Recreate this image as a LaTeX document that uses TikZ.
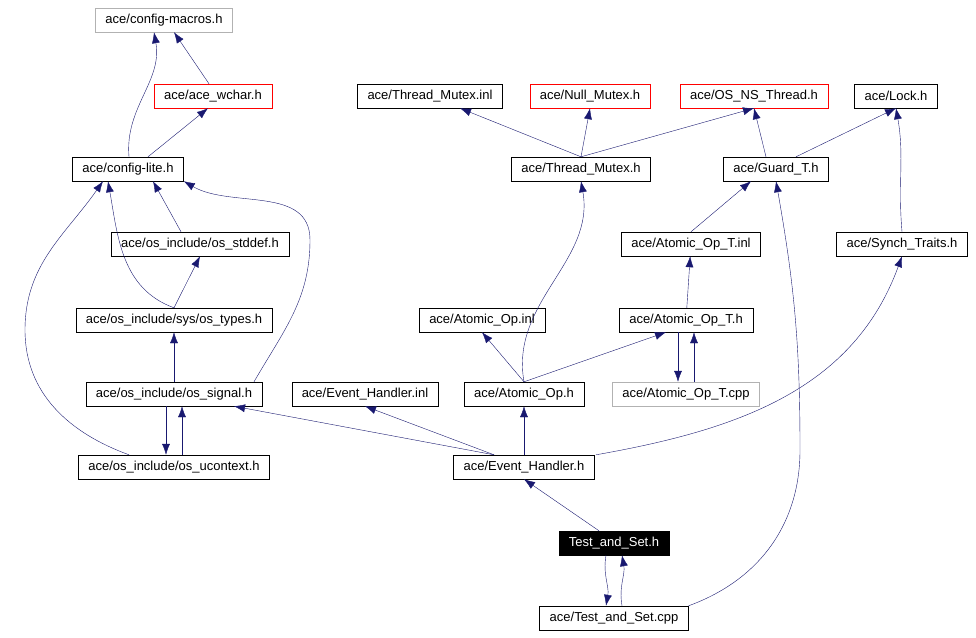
\documentclass[tikz,border=0pt]{standalone}
\usepackage{fontspec}
\setmainfont{Liberation Sans}
\usetikzlibrary{arrows.meta}
\definecolor{edgeblue}{RGB}{25,25,112}
\tikzset{
	file/.style    = {draw=black, rectangle, minimum height=24pt, inner xsep=10pt, font=\fontsize{13}{15}\selectfont},
	ext/.style     = {file, draw=gray!60},
	bad/.style     = {file, draw=red},
	self/.style    = {file, fill=black, text=white},
	inc/.style     = {draw=edgeblue, -{Latex[length=11pt,width=8pt]}}
}
\begin{document}
\begin{tikzpicture}[x=1pt, y=-1pt]
	\useasboundingbox (0,0) rectangle (976,637);
	% headers on the left
	\node[ext] (cmac) at (164,20) {ace/config-macros.h};
	\node[bad] (wchar) at (213,96) {ace/ace\_wchar.h};
	\node[file] (clite) at (128,169) {ace/config-lite.h};
	\node[file] (stddef) at (200,244) {ace/os\_include/os\_stddef.h};
	\node[file] (types) at (174,320) {ace/os\_include/sys/os\_types.h};
	\node[file] (signal) at (174,394) {ace/os\_include/os\_signal.h};
	\node[file] (uctx) at (174,467) {ace/os\_include/os\_ucontext.h};
	\node[file] (ehinl) at (365,394) {ace/Event\_Handler.inl};
	% headers on the right
	\node[file] (tminl) at (430,96) {ace/Thread\_Mutex.inl};
	\node[bad] (null) at (590,96) {ace/Null\_Mutex.h};
	\node[bad] (osns) at (754,96) {ace/OS\_NS\_Thread.h};
	\node[file] (lock) at (896,96) {ace/Lock.h};
	\node[file] (tmh) at (581,169) {ace/Thread\_Mutex.h};
	\node[file] (guard) at (776,169) {ace/Guard\_T.h};
	\node[file] (aotinl) at (691,244) {ace/Atomic\_Op\_T.inl};
	\node[file] (synch) at (902,244) {ace/Synch\_Traits.h};
	\node[file] (aoinl) at (482,320) {ace/Atomic\_Op.inl};
	\node[file] (aoth) at (686,320) {ace/Atomic\_Op\_T.h};
	\node[file] (aoh) at (524,394) {ace/Atomic\_Op.h};
	\node[ext] (aotcpp) at (686,394) {ace/Atomic\_Op\_T.cpp};
	\node[file] (ehh) at (524,467) {ace/Event\_Handler.h};
	\node[self] (tash) at (614,543) {Test\_and\_Set.h};
	\node[file] (tascpp) at (614,618) {ace/Test\_and\_Set.cpp};

	\draw[inc] (wchar.north west) ++(55,0) coordinate (w1) -- ([xshift=10pt]cmac.south);
	\draw[inc] ([xshift=1pt]clite.north) to[out=95,in=-80] ([xshift=-10pt]cmac.south);
	\draw[inc] ([xshift=20pt]clite.north) -- ([xshift=-5pt]wchar.south);
	\draw[inc] (stddef.north west) ++(70,0) -- ([xshift=25pt]clite.south);
	\draw[inc] (types.north) to[out=160,in=-80] ([xshift=-20pt]clite.south);
	\draw[inc] (types.north) -- (stddef.south);
	\draw[inc] (signal) -- (types);
	\draw[inc] ([xshift=80pt]signal.north) to[out=60,in=-90] (310,240) to[out=90,in=-30] (clite.south east);
	\draw[inc] ([xshift=-45pt]uctx.north) to[out=160,in=-90] (25,330) to[out=90,in=-125] ([xshift=-25pt]clite.south);
	\draw[inc] ([xshift=8pt]uctx.north) -- ([xshift=8pt]signal.south);
	\draw[inc] ([xshift=-8pt]signal.south) -- ([xshift=-8pt]uctx.north);
	\draw[inc] ([xshift=-30pt]ehh.north) -- ([xshift=60pt]signal.south);
	\draw[inc] ([xshift=-30pt]ehh.north) -- (ehinl.south);
	\draw[inc] (ehh) -- (aoh);
	\draw[inc] ([xshift=72pt]ehh.north) to[out=10,in=-110] (synch.south);
	\draw[inc] (aoh.north) -- (aoinl.south);
	\draw[inc] (aoh.north) to[out=100,in=-80] (tmh.south);
	\draw[inc] (aoh.north) -- ([xshift=-20pt]aoth.south);
	\draw[inc] ([xshift=8pt]aotcpp.north) to[out=90,in=-90] ([xshift=8pt]aoth.south);
	\draw[inc] ([xshift=-8pt]aoth.south) to[out=-90,in=90] ([xshift=-8pt]aotcpp.north);
	\draw[inc] (aoth) -- (aotinl);
	\draw[inc] (aotinl.north) -- ([xshift=-25pt]guard.south);
	\draw[inc] ([xshift=-10pt]guard.north) -- (osns.south);
	\draw[inc] ([xshift=20pt]guard.north) -- (lock.south);
	\draw[inc] (synch.north) to[out=95,in=-80] (lock.south);
	\draw[inc] (tmh.north) -- ([xshift=30pt]tminl.south);
	\draw[inc] (tmh.north) -- (null.south);
	\draw[inc] (tmh.north) -- (osns.south);
	\draw[inc] ([xshift=-15pt]tash.north) -- (ehh.south);
	\draw[inc] ([xshift=8pt]tascpp.north) to[out=100,in=-80] ([xshift=8pt]tash.south);
	\draw[inc] ([xshift=-8pt]tash.south) to[out=-100,in=80] ([xshift=-8pt]tascpp.north);
	\draw[inc] (tascpp.north east) to[out=20,in=-90] (800,450) to[out=90,in=-80] (guard.south);
\end{tikzpicture}
\end{document}
